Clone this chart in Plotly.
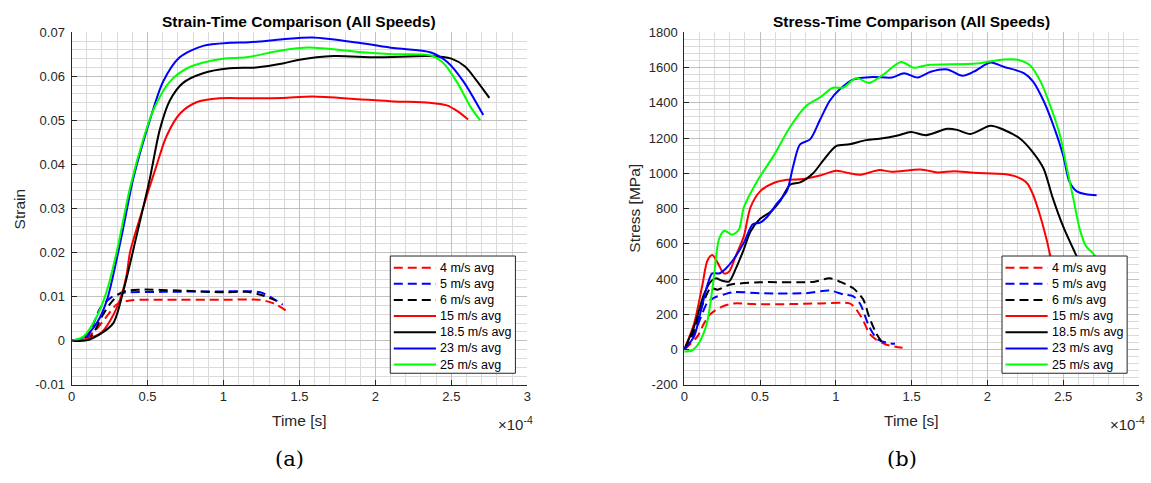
import plotly.graph_objects as go

# ---------------------------------------------------------------------------
# Averaged strain / stress histories per impact speed (time in units of 1e-4 s)
# ---------------------------------------------------------------------------
speed_labels = ["4 m/s avg", "5 m/s avg", "6 m/s avg", "15 m/s avg",
                "18.5 m/s avg", "23 m/s avg", "25 m/s avg"]
line_colors = ["#ff0000", "#0000ff", "#000000", "#ff0000",
               "#000000", "#0000ff", "#00ff00"]
line_dashes = ["9px,5px", "9px,5px", "9px,5px", "solid", "solid", "solid", "solid"]

# Strain vs time
strain_t_4 = [0, 0.1, 0.163, 0.222, 0.303, 0.397, 0.6, 1.0, 1.236, 1.33, 1.435]
strain_4 = [0, 0.0008, 0.0026, 0.0051, 0.0084, 0.0092, 0.0093, 0.0093, 0.0093, 0.0085, 0.0063]

strain_t_5 = [0, 0.1, 0.19, 0.26, 0.33, 0.6, 1.0, 1.2, 1.26, 1.39]
strain_5 = [0, 0.0008, 0.0075, 0.0098, 0.0108, 0.0111, 0.0112, 0.0112, 0.0108, 0.0082]

strain_t_6 = [0, 0.12, 0.2, 0.254, 0.33, 0.45, 0.7, 1.0, 1.15, 1.25, 1.346]
strain_6 = [0, 0.0007, 0.0055, 0.0084, 0.011, 0.0116, 0.0114, 0.011, 0.0111, 0.0104, 0.0091]

strain_t_15 = [0, 0.1, 0.2, 0.28, 0.33, 0.363, 0.385, 0.472, 0.56, 0.625, 0.713, 0.822,
               0.975, 1.17, 1.39, 1.586, 1.89, 2.12, 2.356, 2.47, 2.54, 2.61]
strain_15 = [0, 0.0004, 0.002, 0.0062, 0.0105, 0.015, 0.0201, 0.0303, 0.0398, 0.0464, 0.0515, 0.0541,
             0.055, 0.055, 0.0551, 0.0554, 0.0548, 0.0543, 0.054, 0.0534, 0.0521, 0.0502]

strain_t_18p5 = [0, 0.1, 0.188, 0.275, 0.341, 0.428, 0.516, 0.581, 0.647, 0.734, 0.866, 1.04,
                 1.215, 1.39, 1.49, 1.726, 2.006, 2.356, 2.50, 2.59, 2.66, 2.75]
strain_18p5 = [0, 0.0001, 0.0015, 0.004, 0.0113, 0.0238, 0.0369, 0.0479, 0.0545, 0.0585, 0.0607, 0.0618,
               0.062, 0.0629, 0.0637, 0.0646, 0.0643, 0.0646, 0.064, 0.0622, 0.0593, 0.0551]

strain_t_23 = [0, 0.08, 0.166, 0.232, 0.33, 0.407, 0.516, 0.603, 0.712, 0.866, 1.04, 1.17,
               1.39, 1.586, 1.89, 2.12, 2.366, 2.475, 2.58, 2.71]
strain_23 = [0, 0.0008, 0.004, 0.0091, 0.0238, 0.0369, 0.0501, 0.0588, 0.0643, 0.0669, 0.0676, 0.0677,
             0.0684, 0.0688, 0.0676, 0.0664, 0.0654, 0.0632, 0.0588, 0.0512]

strain_t_25 = [0, 0.08, 0.166, 0.232, 0.297, 0.385, 0.472, 0.538, 0.647, 0.778, 0.997, 1.15,
               1.37, 1.563, 1.89, 2.12, 2.366, 2.45, 2.54, 2.627, 2.69]
strain_25 = [0, 0.001, 0.0055, 0.0113, 0.0201, 0.0347, 0.0457, 0.0523, 0.0588, 0.0621, 0.064, 0.0643,
             0.0658, 0.0665, 0.0655, 0.065, 0.0647, 0.0629, 0.0585, 0.053, 0.050]

# Stress [MPa] vs time
stress_t_4 = [0, 0.087, 0.13, 0.175, 0.24, 0.327, 0.45, 0.7, 0.9, 1.09, 1.124, 1.18, 1.22, 1.266, 1.33, 1.44]
stress_4 = [0, 75, 148, 203, 240, 262, 258, 258, 262, 262, 240, 166, 93, 57, 29, 10]

stress_t_5 = [0, 0.06, 0.11, 0.153, 0.196, 0.262, 0.327, 0.5, 0.8, 0.96, 1.05, 1.113, 1.16, 1.22,
              1.277, 1.36, 1.39]
stress_5 = [0, 80, 185, 267, 294, 313, 326, 320, 320, 335, 313, 304, 260, 130, 57, 35, 33]

stress_t_6 = [0, 0.06, 0.13, 0.175, 0.218, 0.30, 0.5, 0.85, 0.96, 1.03, 1.113, 1.18, 1.22, 1.266, 1.30]
stress_6 = [0, 100, 276, 349, 340, 368, 382, 384, 404, 384, 349, 285, 185, 93, 47]

stress_t_15 = [0, 0.065, 0.12, 0.153, 0.185, 0.218, 0.262, 0.295, 0.34, 0.393, 0.437, 0.502, 0.59,
               0.677, 0.786, 0.895, 1.004, 1.09, 1.157, 1.288, 1.364, 1.56, 1.67, 1.78, 1.91, 2.107,
               2.19, 2.26, 2.30, 2.35, 2.39, 2.42, 2.47, 2.52]
stress_15 = [0, 148, 368, 505, 536, 496, 432, 441, 532, 642, 807, 899, 945,
             963, 967, 987, 1014, 1000, 991, 1018, 1009, 1021, 1005, 1012, 1003, 996,
             981, 945, 881, 752, 624, 514, 380, 250]

stress_t_18p5 = [0, 0.065, 0.13, 0.175, 0.207, 0.25, 0.295, 0.34, 0.393, 0.437, 0.502, 0.568, 0.633,
                 0.70, 0.764, 0.85, 0.917, 1.004, 1.09, 1.20, 1.288, 1.408, 1.495, 1.594, 1.735, 1.80,
                 1.888, 2.02, 2.107, 2.216, 2.30, 2.37, 2.43, 2.50, 2.587, 2.65]
stress_18p5 = [0, 130, 313, 386, 404, 390, 386, 459, 569, 670, 743, 780, 844,
               936, 948, 1000, 1073, 1155, 1164, 1188, 1196, 1214, 1234, 1216, 1252, 1246,
               1223, 1269, 1247, 1196, 1119, 1027, 862, 697, 532, 420]

stress_t_23 = [0, 0.065, 0.11, 0.153, 0.185, 0.23, 0.273, 0.327, 0.393, 0.452, 0.50, 0.546, 0.61,
               0.677, 0.72, 0.764, 0.83, 0.895, 0.96, 1.026, 1.113, 1.244, 1.37, 1.45, 1.54, 1.626,
               1.735, 1.834, 1.91, 2.02, 2.107, 2.24, 2.30, 2.37, 2.43, 2.50, 2.54, 2.587, 2.65, 2.72]
stress_23 = [0, 75, 221, 368, 432, 432, 459, 514, 606, 711, 720, 752, 826,
             899, 1046, 1164, 1192, 1302, 1411, 1476, 1531, 1546, 1543, 1567, 1543, 1576,
             1589, 1553, 1576, 1628, 1604, 1568, 1521, 1411, 1283, 1100, 954, 899, 881, 875]

stress_t_25 = [0, 0.05, 0.10, 0.15, 0.19, 0.23, 0.265, 0.316, 0.36, 0.393, 0.48, 0.59, 0.70, 0.807,
               0.895, 0.98, 1.05, 1.135, 1.22, 1.31, 1.43, 1.517, 1.60, 1.93, 2.107, 2.19, 2.28,
               2.35, 2.41, 2.48, 2.52, 2.565, 2.61, 2.65, 2.70, 2.74]
stress_25 = [-10, -5, 42, 152, 372, 628, 674, 652, 680, 807, 954, 1100, 1265, 1384,
             1430, 1485, 1486, 1540, 1512, 1558, 1631, 1598, 1613, 1622, 1645, 1645, 1613,
             1521, 1393, 1210, 1045, 862, 679, 587, 542, 480]

strain_series = [(strain_t_4, strain_4), (strain_t_5, strain_5), (strain_t_6, strain_6),
                 (strain_t_15, strain_15), (strain_t_18p5, strain_18p5),
                 (strain_t_23, strain_23), (strain_t_25, strain_25)]
stress_series = [(stress_t_4, stress_4), (stress_t_5, stress_5), (stress_t_6, stress_6),
                 (stress_t_15, stress_15), (stress_t_18p5, stress_18p5),
                 (stress_t_23, stress_23), (stress_t_25, stress_25)]

# Tick labels
time_ticks = [0, 0.5, 1, 1.5, 2, 2.5, 3]
time_tick_text = ["0", "0.5", "1", "1.5", "2", "2.5", "3"]
strain_ticks = [-0.01, 0, 0.01, 0.02, 0.03, 0.04, 0.05, 0.06, 0.07]
strain_tick_text = ["-0.01", "0", "0.01", "0.02", "0.03", "0.04", "0.05", "0.06", "0.07"]
stress_ticks = [-200, 0, 200, 400, 600, 800, 1000, 1200, 1400, 1600, 1800]
stress_tick_text = ["-200", "0", "200", "400", "600", "800", "1000", "1200", "1400", "1600", "1800"]

# ---------------------------------------------------------------------------
# Figure geometry (pixels of the 1151 x 483 canvas)
# ---------------------------------------------------------------------------
W, H = 1151, 483
AX_TOP, AX_BOTTOM = 26, 390
LEFT_AX = (68, 527)
RIGHT_AX = (685, 1143)


def fx(px):
    return px / W


def fy(py):
    return 1 - py / H


FONT = "Liberation Sans, Arial, sans-serif"
AXIS_COLOR = "#262626"

fig = go.Figure()

for i in range(len(speed_labels)):
    t, s = strain_series[i]
    fig.add_trace(go.Scatter(
        x=t, y=s, mode="lines", name=speed_labels[i], showlegend=False,
        line=dict(color=line_colors[i], width=2, dash=line_dashes[i],
                  shape="spline", smoothing=0.8),
        xaxis="x", yaxis="y"))
for i in range(len(speed_labels)):
    t, s = stress_series[i]
    fig.add_trace(go.Scatter(
        x=t, y=s, mode="lines", name=speed_labels[i], showlegend=False,
        line=dict(color=line_colors[i], width=2, dash=line_dashes[i],
                  shape="spline", smoothing=0.8),
        xaxis="x2", yaxis="y2"))


def x_axis(domain, anchor):
    return dict(domain=domain, anchor=anchor, range=[0, 3],
                tickmode="array", tickvals=time_ticks, ticktext=time_tick_text,
                showgrid=True, gridcolor="#c0c0c0", gridwidth=1,
                minor=dict(tickmode="linear", tick0=0, dtick=0.1, showgrid=True,
                           gridcolor="#dadada", gridwidth=1, ticklen=0),
                showline=True, linecolor=AXIS_COLOR, linewidth=1,
                ticks="inside", ticklen=5, tickcolor=AXIS_COLOR,
                zeroline=False, fixedrange=True,
                tickfont=dict(family=FONT, size=13, color=AXIS_COLOR))


def y_axis(domain, anchor, rng, vals, text, minor_dtick):
    return dict(domain=domain, anchor=anchor, range=rng,
                tickmode="array", tickvals=vals, ticktext=text,
                showgrid=True, gridcolor="#c0c0c0", gridwidth=1,
                minor=dict(tickmode="linear", tick0=0, dtick=minor_dtick, showgrid=True,
                           gridcolor="#dadada", gridwidth=1, ticklen=0),
                showline=True, linecolor=AXIS_COLOR, linewidth=1,
                ticks="inside", ticklen=5, tickcolor=AXIS_COLOR,
                zeroline=False, fixedrange=True, ticklabelstandoff=3,
                tickfont=dict(family=FONT, size=13, color=AXIS_COLOR))


ydom = [fy(AX_BOTTOM), fy(AX_TOP)]
fig.update_layout(
    width=W, height=H,
    margin=dict(l=0, r=0, t=0, b=0),
    paper_bgcolor="white", plot_bgcolor="white",
    showlegend=False,
    xaxis=x_axis([fx(LEFT_AX[0]), fx(LEFT_AX[1])], "y"),
    yaxis=y_axis(ydom, "x", [-0.01, 0.07], strain_ticks, strain_tick_text, 0.002),
    xaxis2=x_axis([fx(RIGHT_AX[0]), fx(RIGHT_AX[1])], "y2"),
    yaxis2=y_axis(ydom, "x2", [-200, 1800], stress_ticks, stress_tick_text, 40),
)

annotations = []
shapes = []


def text(x, y, s, size=13, bold=False, family=FONT, angle=0, xanchor="center",
         yanchor="middle", color="#000000"):
    annotations.append(dict(
        x=fx(x), y=fy(y), xref="paper", yref="paper", text=("<b>%s</b>" % s) if bold else s,
        showarrow=False, xanchor=xanchor, yanchor=yanchor, textangle=angle,
        font=dict(family=family, size=size, color=color)))


for (x0, x1), title, ylabel, ylab_x, caption, cap_x in [
        (LEFT_AX, "Strain-Time Comparison (All Speeds)", "Strain", 16, "(a)", 287.5),
        (RIGHT_AX, "Stress-Time Comparison (All Speeds)", "Stress [MPa]", 634.5, "(b)", 904)]:
    mid = (x0 + x1) / 2
    text(mid, 15, title, size=15.5, bold=True)
    text(mid, 427, "Time [s]", size=15.5, color=AXIS_COLOR)
    text(ylab_x, (AX_TOP + AX_BOTTOM) / 2, ylabel, size=15.5, angle=-90, color=AXIS_COLOR)
    text(x1 + 8, 430, "×10<sup>-4</sup>", size=15, xanchor="right", color=AXIS_COLOR)
    text(cap_x, 466, caption, size=21, family="DejaVu Serif, serif")

    # legend box
    lx0, lx1, ly0, ly1 = x1 - 138, x1 - 12, 257, 378
    shapes.append(dict(type="rect", xref="paper", yref="paper",
                       x0=fx(lx0), x1=fx(lx1), y0=fy(ly1), y1=fy(ly0),
                       fillcolor="white", line=dict(color=AXIS_COLOR, width=1),
                       layer="above"))
    for k in range(len(speed_labels)):
        ry = 269 + k * (100 / 6)
        shapes.append(dict(type="line", xref="paper", yref="paper",
                           x0=fx(lx0 + 3.5), x1=fx(lx0 + 46), y0=fy(ry), y1=fy(ry),
                           line=dict(color=line_colors[k], width=2, dash=line_dashes[k]),
                           layer="above"))
        text(lx0 + 48, ry, speed_labels[k], size=12.5, xanchor="left")

fig.update_layout(annotations=annotations, shapes=shapes)

fig.write_html("out.html")
